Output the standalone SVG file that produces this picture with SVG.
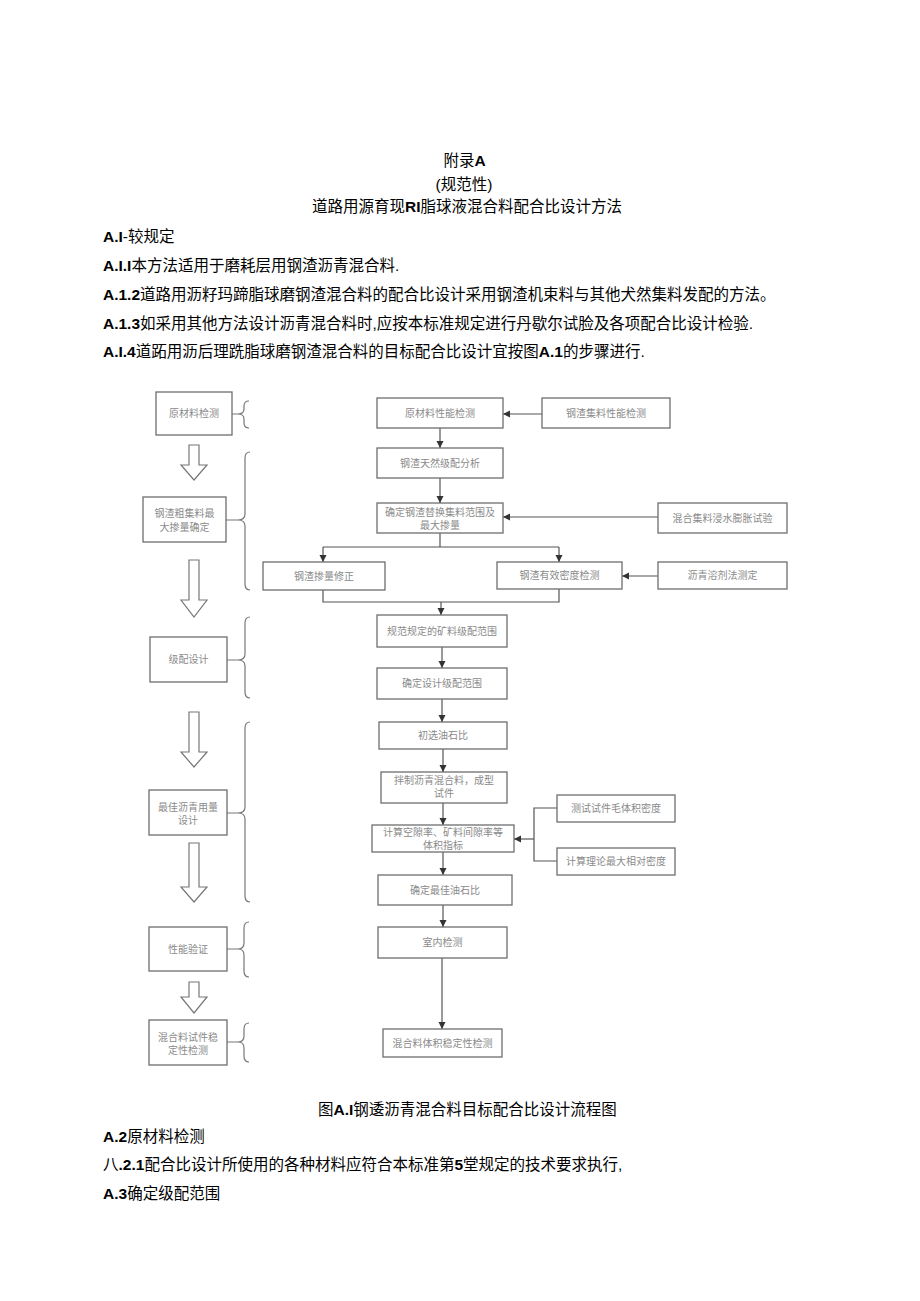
<svg xmlns="http://www.w3.org/2000/svg" width="920" height="1301" viewBox="0 0 920 1301">
<defs>
<style>
.t{font-family:"Liberation Sans","Noto Sans CJK SC",sans-serif;font-size:15.5px;fill:#000}
.b{font-weight:bold}
.bx{fill:#fff;stroke:#6e6e6e;stroke-width:1.3}
.bt{font-family:"Noto Sans CJK SC","Liberation Sans",sans-serif;font-size:10px;fill:#8a8a8a;text-anchor:middle}
.ln{fill:none;stroke:#555;stroke-width:1.2}
.br{fill:none;stroke:#777;stroke-width:1.2}
.ha{fill:#fff;stroke:#777;stroke-width:1.2}
</style>
<marker id="ah" markerWidth="8" markerHeight="8" refX="7" refY="4" orient="auto" markerUnits="userSpaceOnUse"><path d="M0,0.5 L7,4 L0,7.5 Z" fill="#333"/></marker>
</defs>
<rect width="920" height="1301" fill="#fff"/>

<g id="header">
<text class="t" x="464.5" y="166" text-anchor="middle">附录<tspan class="b">A</tspan></text>
<text class="t" x="464" y="190" text-anchor="middle">(规范性)</text>
<text class="t" x="312" y="212">道路用源育现<tspan class="b">RI</tspan>脂球液混合料配合比设计方法</text>
<text class="t" x="103" y="242"><tspan class="b">A.I</tspan>-较规定</text>
<text class="t" x="103" y="271"><tspan class="b">A.I.I</tspan>本方法适用于磨耗层用钢渣沥青混合料.</text>
<text class="t" x="103" y="300"><tspan class="b">A.1.2</tspan>道路用沥籽玛蹄脂球磨钢渣混合料的配合比设计采用钢渣机束料与其他犬然集料发配的方法。</text>
<text class="t" x="103" y="329"><tspan class="b">A.1.3</tspan>如采用其他方法设计沥青混合料时,应按本标准规定进行丹歇尔试脸及各项配合比设计检验.</text>
<text class="t" x="103" y="357"><tspan class="b">A.I.4</tspan>道跖用沥后理跣脂球磨钢渣混合料的目标配合比设计宜按图<tspan class="b">A.1</tspan>的步骤进行.</text>
</g>

<g id="connectors">
<path class="ln" d="M440,428 V448" marker-end="url(#ah)"/>
<path class="ln" d="M440,478 V503" marker-end="url(#ah)"/>
<path class="ln" d="M440,533 V547 M323,547 H559"/>
<path class="ln" d="M323,547 V562" marker-end="url(#ah)"/>
<path class="ln" d="M559,547 V562" marker-end="url(#ah)"/>
<path class="ln" d="M323,590 V602 H559 V589"/>
<path class="ln" d="M441,602 V615" marker-end="url(#ah)"/>
<path class="ln" d="M442,647 V668" marker-end="url(#ah)"/>
<path class="ln" d="M442,699 V722" marker-end="url(#ah)"/>
<path class="ln" d="M443,749 V772" marker-end="url(#ah)"/>
<path class="ln" d="M443,803 V825" marker-end="url(#ah)"/>
<path class="ln" d="M443,852 V875" marker-end="url(#ah)"/>
<path class="ln" d="M443,905 V927" marker-end="url(#ah)"/>
<path class="ln" d="M442,958 V1029" marker-end="url(#ah)"/>
<path class="ln" d="M542,414 H503" marker-end="url(#ah)"/>
<path class="ln" d="M658,517 H503" marker-end="url(#ah)"/>
<path class="ln" d="M658,576 H622" marker-end="url(#ah)"/>
<path class="ln" d="M557,808 H534 V861 H557"/>
<path class="ln" d="M534,839 H514" marker-end="url(#ah)"/>
</g>

<g id="left-arrows">
<path class="ha" d="M189,445 H199 V465 H207 L194,480 L181,465 H189 Z"/>
<path class="ha" d="M189,560 H199 V600 H207 L194,617 L181,600 H189 Z"/>
<path class="ha" d="M189,712 H199 V752 H207 L194,767 L181,752 H189 Z"/>
<path class="ha" d="M189,843 H199 V887 H207 L194,902 L181,887 H189 Z"/>
<path class="ha" d="M189,982 H199 V997 H207 L194,1013 L181,997 H189 Z"/>
</g>

<g id="braces">
<path class="br" d="M232,414 H238 M249,401 Q244,401 244,406 V409 Q244,414 238,414 Q244,414 244,419 V423 Q244,428 249,428"/>
<path class="br" d="M226,520 H238 M250,452 Q245,452 245,458 V514 Q245,520 238,520 Q245,520 245,526 V584 Q245,590 250,590"/>
<path class="br" d="M227,660 H238 M250,617 Q245,617 245,623 V654 Q245,660 238,660 Q245,660 245,666 V692 Q245,698 250,698"/>
<path class="br" d="M227,813 H238 M250,722 Q245,722 245,728 V807 Q245,813 238,813 Q245,813 245,819 V896 Q245,902 250,902"/>
<path class="br" d="M227,949 H238 M249,922 Q244,922 244,928 V943 Q244,949 238,949 Q244,949 244,955 V971 Q244,977 249,977"/>
<path class="br" d="M227,1042 H238 M249,1023 Q244,1023 244,1029 V1036 Q244,1042 238,1042 Q244,1042 244,1048 V1056 Q244,1062 249,1062"/>
</g>

<g id="L1"><rect class="bx" x="156" y="392" width="76" height="43"/><text class="bt" x="194" y="417">原材料检测</text></g>
<g id="L2"><rect class="bx" x="143" y="497" width="83" height="45"/><text class="bt" x="184.5" y="516.5">钢渣粗集料最</text><text class="bt" x="184.5" y="530.5">大掺量确定</text></g>
<g id="L3"><rect class="bx" x="150" y="637" width="77" height="45"/><text class="bt" x="188.5" y="663">级配设计</text></g>
<g id="L4"><rect class="bx" x="149" y="790" width="78" height="45"/><text class="bt" x="188" y="810.5">最佳沥青用量</text><text class="bt" x="188" y="823.5">设计</text></g>
<g id="L5"><rect class="bx" x="149" y="927" width="78" height="44"/><text class="bt" x="188" y="952.5">性能验证</text></g>
<g id="L6"><rect class="bx" x="149" y="1020" width="78" height="45"/><text class="bt" x="188" y="1040.5">混合料试件稳</text><text class="bt" x="188" y="1053.5">定性检测</text></g>

<g id="M1"><rect class="bx" x="377" y="398" width="126" height="30"/><text class="bt" x="440" y="416.5">原材料性能检测</text></g>
<g id="M2"><rect class="bx" x="377" y="448" width="126" height="30"/><text class="bt" x="440" y="466.5">钢渣天然级配分析</text></g>
<g id="M3"><rect class="bx" x="377" y="503" width="126" height="30"/><text class="bt" x="440" y="516">确定钢渣替换集料范围及</text><text class="bt" x="440" y="529">最大掺量</text></g>
<g id="M4"><rect class="bx" x="263" y="562" width="122" height="28"/><text class="bt" x="324" y="579.5">钢渣掺量修正</text></g>
<g id="M5"><rect class="bx" x="497" y="562" width="125" height="27"/><text class="bt" x="559.5" y="579">钢渣有效密度检测</text></g>
<g id="M6"><rect class="bx" x="377" y="615" width="130" height="32"/><text class="bt" x="442" y="634.5">规范规定的矿料级配范围</text></g>
<g id="M7"><rect class="bx" x="377" y="668" width="130" height="31"/><text class="bt" x="442" y="687">确定设计级配范围</text></g>
<g id="M8"><rect class="bx" x="379" y="722" width="128" height="27"/><text class="bt" x="443" y="739">初选油石比</text></g>
<g id="M9"><rect class="bx" x="381" y="772" width="126" height="31"/><text class="bt" x="444" y="783.5">拌制沥青混合料，成型</text><text class="bt" x="444" y="796.5">试件</text></g>
<g id="M10"><rect class="bx" x="372" y="825" width="142" height="27"/><text class="bt" x="443" y="835.5">计算空隙率、矿料间隙率等</text><text class="bt" x="443" y="848.5">体积指标</text></g>
<g id="M11"><rect class="bx" x="378" y="875" width="134" height="30"/><text class="bt" x="445" y="893.5">确定最佳油石比</text></g>
<g id="M12"><rect class="bx" x="378" y="927" width="129" height="31"/><text class="bt" x="442.5" y="946">室内检测</text></g>
<g id="M13"><rect class="bx" x="383" y="1029" width="119" height="28"/><text class="bt" x="442.5" y="1046.5">混合料体积稳定性检测</text></g>

<g id="R1"><rect class="bx" x="542" y="398" width="128" height="30"/><text class="bt" x="606" y="416.5">钢渣集料性能检测</text></g>
<g id="R2"><rect class="bx" x="658" y="503" width="129" height="30"/><text class="bt" x="722.5" y="521.5">混合集料浸水膨胀试验</text></g>
<g id="R3"><rect class="bx" x="658" y="562" width="129" height="27"/><text class="bt" x="722.5" y="579">沥青溶剂法测定</text></g>
<g id="R4"><rect class="bx" x="557" y="795" width="118" height="27"/><text class="bt" x="616" y="812">测试试件毛体积密度</text></g>
<g id="R5"><rect class="bx" x="557" y="848" width="118" height="27"/><text class="bt" x="616" y="865">计算理论最大相对密度</text></g>

<g id="footer">
<text class="t" x="318" y="1115">图<tspan class="b">A.I</tspan>钢逶沥青混合料目标配合比设计流程图</text>
<text class="t" x="103" y="1142"><tspan class="b">A.2</tspan>原材料检测</text>
<text class="t" x="103" y="1170">八<tspan class="b">.2.1</tspan>配合比设计所使用的各种材料应符合本标准第<tspan class="b">5</tspan>堂规定的技术要求执行,</text>
<text class="t" x="103" y="1199"><tspan class="b">A.3</tspan>确定级配范围</text>
</g>
</svg>
